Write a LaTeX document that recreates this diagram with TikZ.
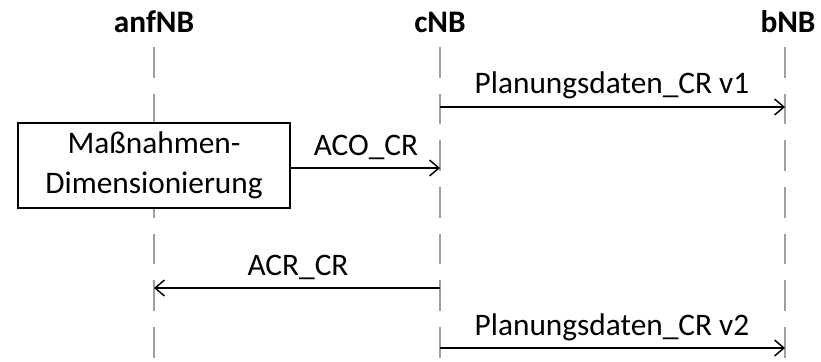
\documentclass[tikz,border=0pt]{standalone}
\usepackage{fontspec}
\setmainfont{Carlito}
\usetikzlibrary{arrows.meta}
\tikzset{
  lifeline/.style={draw=gray!75, line width=1.5pt, dash pattern=on 23pt off 12pt},
  msg/.style={draw=black, line width=1.1pt, -{Straight Barb[length=7pt,width=12pt,line width=1.1pt]}},
  head/.style={font=\fontsize{23.5}{26}\selectfont\bfseries, inner sep=0pt},
  lbl/.style={font=\fontsize{23.5}{28}\selectfont, inner sep=0pt, anchor=base},
  box/.style={draw=black, line width=1.1pt, minimum width=204pt, minimum height=64pt, align=center, font=\fontsize{23.5}{30}\selectfont}
}
\begin{document}
\begin{tikzpicture}[x=0.75pt,y=-0.75pt]
\useasboundingbox (0,0) rectangle (821,361);
% headers
\node[head] (hA) at (154,22) {anfNB};
\node[head] (hC) at (440,22) {cNB};
\node[head] (hB) at (788,22) {bNB};
% lifelines
\coordinate (aT) at (154,47); \coordinate (aB) at (154,361);
\coordinate (cT) at (440,47); \coordinate (cB) at (440,361);
\coordinate (bT) at (785,47); \coordinate (bB) at (785,361);
\draw[lifeline] (aT) -- (aB);
\draw[lifeline] (cT) -- (cB);
\draw[lifeline] (bT) -- (bB);
% box
\node[box, fill=white] (mb) at (154,165.5) {Maßnahmen-\\Dimensionierung};
% message points
\coordinate (m1s) at (440,107); \coordinate (m1e) at (785,107);
\coordinate (m2e) at (440,168);
\coordinate (m3s) at (440,288); \coordinate (m3e) at (154,288);
\coordinate (m4s) at (440,348); \coordinate (m4e) at (785,348);
\draw[msg] (m1s) -- (m1e);
\draw[msg] (mb.east |- m2e) -- (m2e);
\draw[msg] (m3s) -- (m3e);
\draw[msg] (m4s) -- (m4e);
% labels
\node[lbl] (l1) at (612,93) {Planungsdaten\_CR v1};
\node[lbl] (l2) at (366,155) {ACO\_CR};
\node[lbl] (l3) at (298,275) {ACR\_CR};
\node[lbl] (l4) at (612,335) {Planungsdaten\_CR v2};
\end{tikzpicture}
\end{document}
